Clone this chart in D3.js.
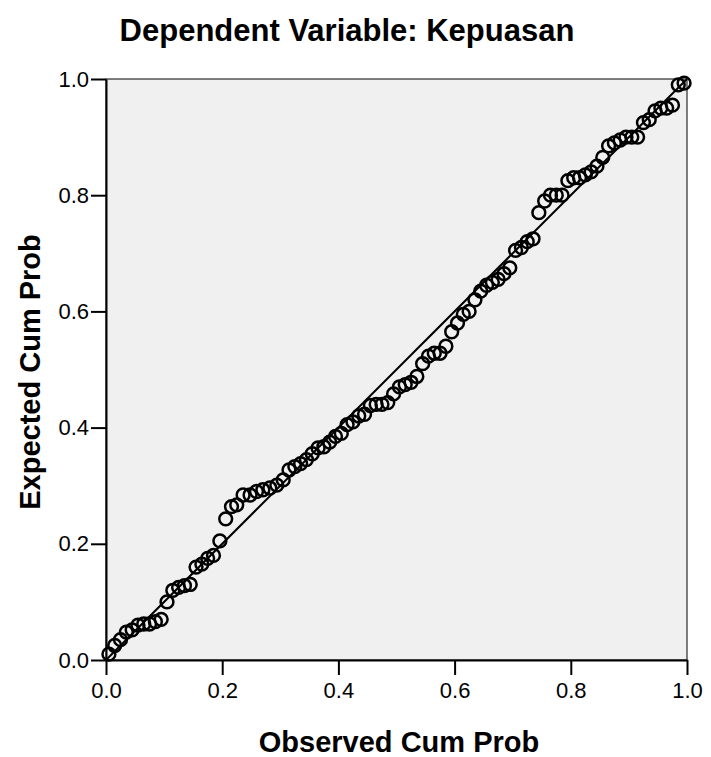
<!DOCTYPE html>
<html>
<head>
<meta charset="utf-8">
<script src="https://cdnjs.cloudflare.com/ajax/libs/d3/7.8.5/d3.min.js"></script>
<style>
  body { margin: 0; background: #fff; }
  text { font-family: Arial, "Liberation Sans", sans-serif; fill: #000; }
</style>
</head>
<body>
<div id="chart"></div>
<script>
// observed vs expected cumulative probability
var observed = [0.005, 0.015, 0.025, 0.035, 0.045, 0.055, 0.065, 0.075, 0.085, 0.095,
  0.105, 0.115, 0.125, 0.135, 0.145, 0.155, 0.165, 0.175, 0.185, 0.196,
  0.206, 0.216, 0.225, 0.236, 0.248, 0.259, 0.27, 0.282, 0.294, 0.305,
  0.315, 0.325, 0.335, 0.345, 0.355, 0.365, 0.375, 0.385, 0.395, 0.405,
  0.415, 0.425, 0.435, 0.445, 0.455, 0.465, 0.475, 0.485, 0.495, 0.505,
  0.515, 0.525, 0.535, 0.545, 0.555, 0.565, 0.575, 0.585, 0.595, 0.605,
  0.615, 0.625, 0.635, 0.645, 0.655, 0.665, 0.675, 0.685, 0.695, 0.705,
  0.715, 0.725, 0.735, 0.745, 0.755, 0.765, 0.775, 0.785, 0.795, 0.805,
  0.815, 0.825, 0.835, 0.845, 0.855, 0.865, 0.875, 0.885, 0.895, 0.905,
  0.915, 0.925, 0.935, 0.945, 0.955, 0.965, 0.975, 0.985, 0.995];
var expected = [0.01, 0.025, 0.035, 0.048, 0.052, 0.06, 0.062, 0.062, 0.066, 0.07,
  0.10, 0.12, 0.125, 0.128, 0.13, 0.16, 0.165, 0.175, 0.18, 0.205,
  0.243, 0.264, 0.267, 0.284, 0.284, 0.29, 0.293, 0.296, 0.301, 0.31,
  0.327, 0.333, 0.338, 0.345, 0.355, 0.365, 0.367, 0.375, 0.385, 0.39,
  0.405, 0.41, 0.42, 0.423, 0.438, 0.44, 0.44, 0.443, 0.458, 0.47,
  0.474, 0.478, 0.488, 0.51, 0.523, 0.528, 0.528, 0.54, 0.565, 0.58,
  0.595, 0.60, 0.62, 0.635, 0.645, 0.65, 0.655, 0.665, 0.675, 0.705,
  0.71, 0.72, 0.725, 0.77, 0.79, 0.80, 0.80, 0.80, 0.825, 0.83,
  0.83, 0.835, 0.84, 0.85, 0.865, 0.885, 0.89, 0.895, 0.90, 0.90,
  0.90, 0.925, 0.93, 0.945, 0.95, 0.95, 0.955, 0.99, 0.993];
var ticks = [0.0, 0.2, 0.4, 0.6, 0.8, 1.0];
var line = [[0, 0], [1, 1]];

var svgWidth = 711;
var svgHeight = 757;
var margin = { top: 79, right: 24, bottom: 97, left: 106 };
var width = svgWidth - margin.left - margin.right;
var height = svgHeight - margin.top - margin.bottom;

var svg = d3.select("#chart")
  .append("svg")
  .attr("width", svgWidth)
  .attr("height", svgHeight);

var chartGroup = svg.append("g")
  .attr("transform", `translate(${margin.left}, ${margin.top})`);

var xScale = d3.scaleLinear().domain([0, 1]).range([0, width]);
var yScale = d3.scaleLinear().domain([0, 1]).range([height, 0]);

// plot background
chartGroup.append("rect")
  .attr("width", width)
  .attr("height", height)
  .attr("fill", "#f0f0f0")
  .attr("stroke", "#000")
  .attr("stroke-width", 1);

// axes
var bottomAxis = d3.axisBottom(xScale).tickValues(ticks).tickFormat(d3.format(".1f"))
  .tickSize(15).tickSizeOuter(0).tickPadding(7);
var leftAxis = d3.axisLeft(yScale).tickValues(ticks).tickFormat(d3.format(".1f"))
  .tickSize(15).tickSizeOuter(0).tickPadding(2);

var xAxis = chartGroup.append("g")
  .attr("transform", `translate(0, ${height})`)
  .call(bottomAxis);
var yAxis = chartGroup.append("g")
  .call(leftAxis);

[xAxis, yAxis].forEach(function(ax) {
  ax.selectAll("path").attr("stroke", "#000").attr("stroke-width", 2);
  ax.selectAll("line").attr("stroke", "#000").attr("stroke-width", 2);
  ax.selectAll("text").attr("font-size", "22px").attr("fill", "#000")
    .style("font-family", "Arial, 'Liberation Sans', sans-serif");
});

// reference line
chartGroup.append("path")
  .datum(line)
  .attr("d", d3.line().x(d => xScale(d[0])).y(d => yScale(d[1])))
  .attr("fill", "none")
  .attr("stroke", "#000")
  .attr("stroke-width", 2);

// points
chartGroup.selectAll(".pt")
  .data(observed)
  .enter()
  .append("circle")
  .attr("class", "pt")
  .attr("cx", d => xScale(d))
  .attr("cy", (d, i) => yScale(expected[i]))
  .attr("r", 6.4)
  .attr("fill", "none")
  .attr("stroke", "#000")
  .attr("stroke-width", 2.5);

// titles
svg.append("text")
  .attr("x", 347)
  .attr("y", 41)
  .attr("text-anchor", "middle")
  .attr("font-size", "31px")
  .attr("font-weight", "bold")
  .text("Dependent Variable: Kepuasan");

svg.append("text")
  .attr("x", 399)
  .attr("y", 752)
  .attr("text-anchor", "middle")
  .attr("font-size", "29px")
  .attr("font-weight", "bold")
  .text("Observed Cum Prob");

svg.append("text")
  .attr("transform", "rotate(-90)")
  .attr("x", -372)
  .attr("y", 40)
  .attr("text-anchor", "middle")
  .attr("font-size", "29px")
  .attr("font-weight", "bold")
  .text("Expected Cum Prob");
</script>
</body>
</html>
